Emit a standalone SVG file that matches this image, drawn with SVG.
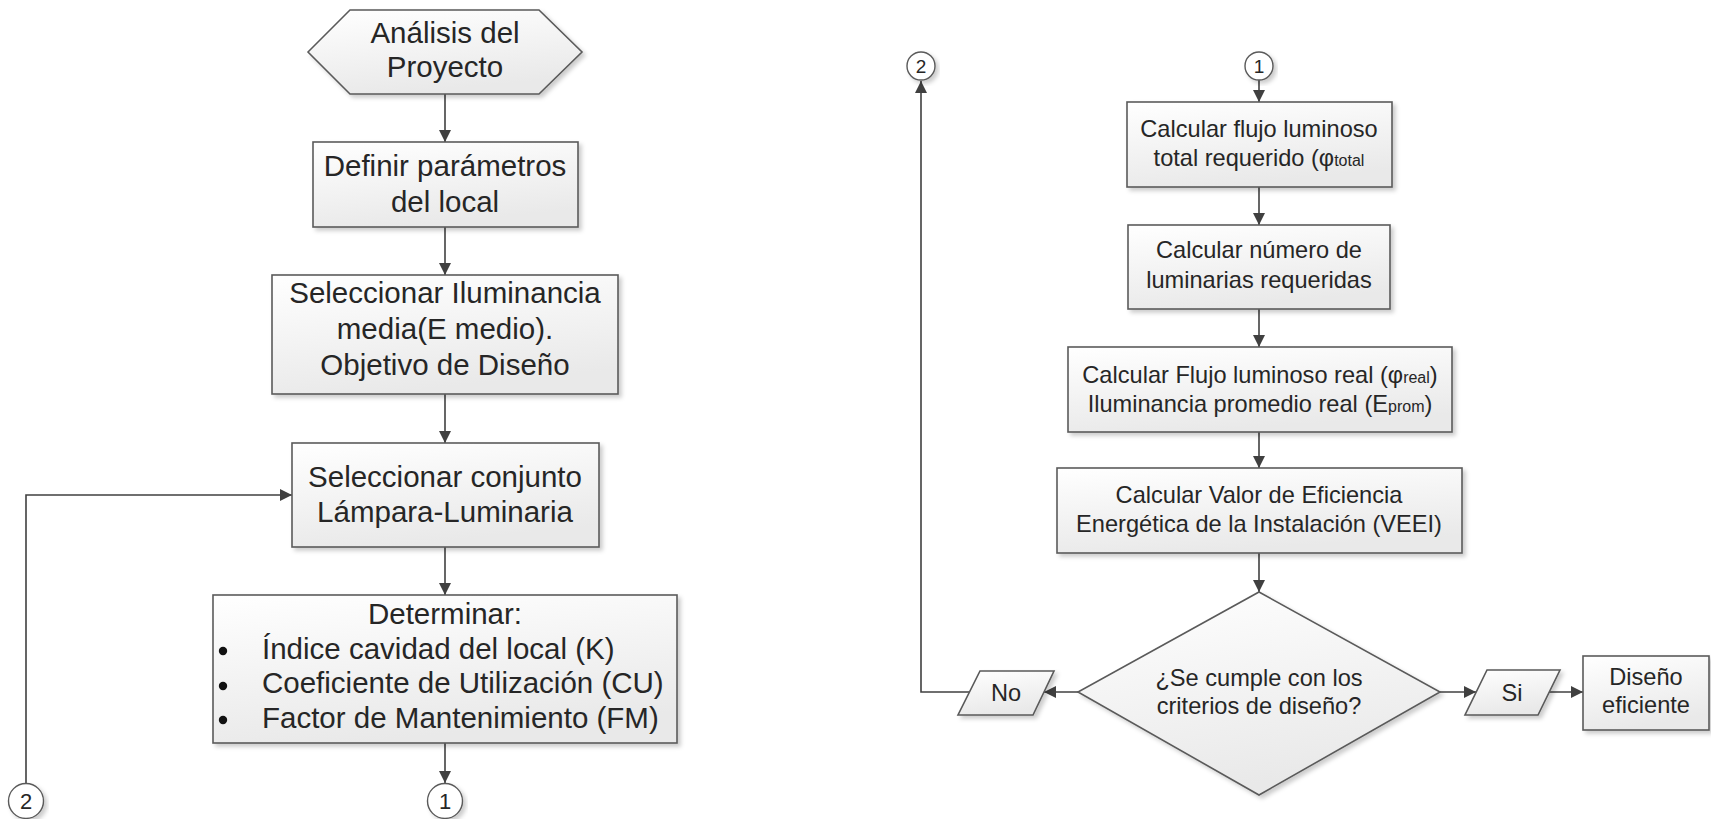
<svg xmlns="http://www.w3.org/2000/svg" width="1711" height="819" viewBox="0 0 1711 819">
<defs>
<linearGradient id="g" x1="0" y1="0" x2="0.3" y2="1">
<stop offset="0" stop-color="#ffffff"/>
<stop offset="1" stop-color="#e9e9e9"/>
</linearGradient>
<filter id="sh" x="-10%" y="-10%" width="125%" height="130%">
<feDropShadow dx="3" dy="3" stdDeviation="2" flood-color="#000" flood-opacity="0.2"/>
</filter>
<marker id="ah" markerUnits="userSpaceOnUse" markerWidth="13" markerHeight="12" refX="12" refY="6" orient="auto">
<path d="M0,0 L12,6 L0,12 Z" fill="#404040"/>
</marker>
<style>
.n{fill:url(#g);stroke:#5a5a5a;stroke-width:1.6;filter:url(#sh)}
.c{fill:#fff;stroke:#5a5a5a;stroke-width:1.4;filter:url(#sh)}
.e{fill:none;stroke:#404040;stroke-width:1.6;marker-end:url(#ah)}
text{font-family:"Liberation Sans",Arial,sans-serif;fill:#262626}
.L{font-size:29.5px;text-anchor:middle}
.Ls{font-size:29.5px}
.R{font-size:23.6px;text-anchor:middle}
.d1{font-size:22px;text-anchor:middle}
.d2{font-size:19px;text-anchor:middle}
.sub{font-size:16px}
</style>
</defs>

<g id="connectors">
<line class="e" x1="445" y1="94" x2="445" y2="142"/>
<line class="e" x1="445" y1="227" x2="445" y2="275"/>
<line class="e" x1="445" y1="394" x2="445" y2="443"/>
<line class="e" x1="445" y1="547" x2="445" y2="595"/>
<line class="e" x1="445" y1="743" x2="445" y2="783"/>
<polyline class="e" points="26,783 26,495 292,495"/>
<line class="e" x1="1259" y1="80" x2="1259" y2="102"/>
<line class="e" x1="1259" y1="187" x2="1259" y2="225"/>
<line class="e" x1="1259" y1="309" x2="1259" y2="347"/>
<line class="e" x1="1259" y1="432" x2="1259" y2="468"/>
<line class="e" x1="1259" y1="553" x2="1259" y2="592"/>
<line class="e" x1="1078" y1="692" x2="1044" y2="692"/>
<polyline class="e" points="969,692 921,692 921,81"/>
<line class="e" x1="1440" y1="692" x2="1476" y2="692"/>
<line class="e" x1="1549" y1="692" x2="1583" y2="692"/>
</g>

<g id="n-analisis">
<polygon class="n" points="308,52 350,10 539,10 582,52 539,94 350,94"/>
<text class="L" x="445" y="43">Análisis del</text>
<text class="L" x="445" y="77">Proyecto</text>
</g>

<g id="n-definir">
<rect class="n" x="313" y="142" width="265" height="85"/>
<text class="L" x="445" y="176">Definir parámetros</text>
<text class="L" x="445" y="212">del local</text>
</g>

<g id="n-iluminancia">
<rect class="n" x="272" y="275" width="346" height="119"/>
<text class="L" x="445" y="303">Seleccionar Iluminancia</text>
<text class="L" x="445" y="339">media(E medio).</text>
<text class="L" x="445" y="375">Objetivo de Diseño</text>
</g>

<g id="n-conjunto">
<rect class="n" x="292" y="443" width="307" height="104"/>
<text class="L" x="445" y="487">Seleccionar conjunto</text>
<text class="L" x="445" y="522">Lámpara-Luminaria</text>
</g>

<g id="n-determinar">
<rect class="n" x="213" y="595" width="464" height="148"/>
<text class="L" x="445" y="624">Determinar:</text>
<circle cx="223" cy="651" r="4.2" fill="#111"/>
<circle cx="223" cy="686" r="4.2" fill="#111"/>
<circle cx="223" cy="720" r="4.2" fill="#111"/>
<text class="Ls" x="262" y="659">Índice cavidad del local (K)</text>
<text class="Ls" x="262" y="693">Coeficiente de Utilización (CU)</text>
<text class="Ls" x="262" y="728">Factor de Mantenimiento (FM)</text>
</g>

<g id="n-c1-left">
<circle class="c" cx="445" cy="801" r="17.5"/>
<text class="d1" x="445" y="809">1</text>
</g>

<g id="n-c2-left">
<circle class="c" cx="26" cy="801" r="17.5"/>
<text class="d1" x="26" y="809">2</text>
</g>

<g id="n-c2-right">
<circle class="c" cx="921" cy="66" r="14"/>
<text class="d2" x="921" y="73">2</text>
</g>

<g id="n-c1-right">
<circle class="c" cx="1259" cy="66" r="14"/>
<text class="d2" x="1259" y="73">1</text>
</g>

<g id="n-flujo-total">
<rect class="n" x="1127" y="102" width="265" height="85"/>
<text class="R" x="1259" y="137">Calcular flujo luminoso</text>
<text class="R" x="1259" y="166">total requerido (φ<tspan class="sub">total</tspan></text>
</g>

<g id="n-numero">
<rect class="n" x="1128" y="225" width="262" height="84"/>
<text class="R" x="1259" y="258">Calcular número de</text>
<text class="R" x="1259" y="288">luminarias requeridas</text>
</g>

<g id="n-flujo-real">
<rect class="n" x="1068" y="347" width="384" height="85"/>
<text class="R" x="1260" y="383">Calcular Flujo luminoso real (φ<tspan class="sub">real</tspan>)</text>
<text class="R" x="1260" y="412">Iluminancia promedio real (E<tspan class="sub">prom</tspan>)</text>
</g>

<g id="n-veei">
<rect class="n" x="1057" y="468" width="405" height="85"/>
<text class="R" x="1259" y="503">Calcular Valor de Eficiencia</text>
<text class="R" x="1259" y="532">Energética de la Instalación (VEEI)</text>
</g>

<g id="n-decision">
<polygon class="n" points="1259,592 1440,692 1259,795 1078,692"/>
<text class="R" x="1259" y="686">¿Se cumple con los</text>
<text class="R" x="1259" y="714">criterios de diseño?</text>
</g>

<g id="n-no">
<polygon class="n" points="980,671 1054,671 1033,715 958,715"/>
<text class="R" x="1006" y="701">No</text>
</g>

<g id="n-si">
<polygon class="n" points="1487,670 1560,670 1538,715 1465,715"/>
<text class="R" x="1512" y="701">Si</text>
</g>

<g id="n-eficiente">
<rect class="n" x="1583" y="656" width="126" height="74"/>
<text class="R" x="1646" y="685">Diseño</text>
<text class="R" x="1646" y="713">eficiente</text>
</g>
</svg>
